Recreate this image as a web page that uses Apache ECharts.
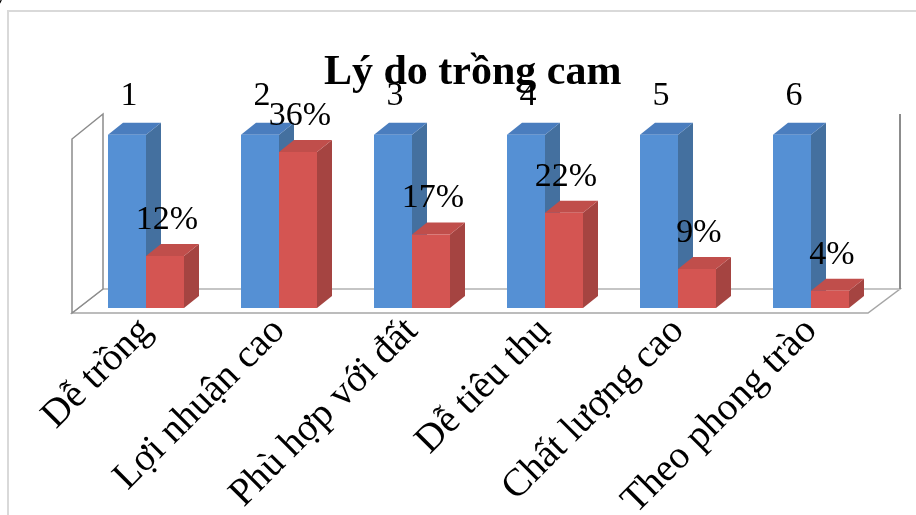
<!DOCTYPE html>
<html><head><meta charset="utf-8">
<script src="https://cdn.jsdelivr.net/npm/echarts@6/dist/echarts.min.js"></script>
<style>html,body{margin:0;padding:0;background:#fff}#c{width:916px;height:515px}</style>
</head><body><div id="c"></div>
<script>
const categories = ['Dễ trồng','Lợi nhuận cao','Phù hợp với đất','Dễ tiêu thụ','Chất lượng cao','Theo phong trào'];
const blueValues = [40, 40, 40, 40, 40, 40];
const blueLabels = ['1','2','3','4','5','6'];
const redValues = [12, 36, 17, 22, 9, 4];
const redLabels = ['12%','36%','17%','22%','9%','4%'];

const BW = 38, DX = 15, DY = 12;
const SERIF = '"Liberation Serif","Times New Roman",serif';
const blue = {front:'#5590D4', top:'#4A7DBE', side:'#44709F'};
const red = {front:'#D45552', top:'#C04E4B', side:'#A54441'};

function makeRender(col, offset, labels, lift){
  return function(params, api){
    const i = api.value(0), v = api.value(1);
    const b = api.coord([i, 0]), t = api.coord([i, v]);
    const x0 = b[0] + offset, ty = t[1], by = b[1];
    return {type:'group', children:[
      {type:'polygon', shape:{points:[[x0+BW,ty],[x0+BW+DX,ty-DY],[x0+BW+DX,by-DY],[x0+BW,by]]}, style:{fill:col.side}},
      {type:'polygon', shape:{points:[[x0,ty],[x0+DX,ty-DY],[x0+BW+DX,ty-DY],[x0+BW,ty]]}, style:{fill:col.top}},
      {type:'rect', shape:{x:x0, y:ty, width:BW, height:by-ty}, style:{fill:col.front}},
      {type:'text', z2:10, style:{text:labels[params.dataIndex], x:x0+BW/2+2, y:ty-DY-lift, align:'center', verticalAlign:'bottom', fill:'#000', font:'34px '+SERIF}}
    ]};
  };
}

const chart = echarts.init(document.getElementById('c'), null, {renderer:'canvas'});
chart.setOption({
  animation:false,
  backgroundColor:'#fff',
  title:{text:'Lý do trồng cam', left:319, top:47, textStyle:{fontFamily:SERIF, fontWeight:'bold', fontSize:42, color:'#000'}},
  grid:{left:79.5, right:38.5, top:91.5, bottom:207, containLabel:false, outerBoundsMode:'none'},
  xAxis:{type:'category', data:categories, axisLine:{show:false}, axisTick:{show:false},
    axisLabel:{rotate:45, margin:17, interval:0, fontFamily:SERIF, fontSize:39, color:'#000'}},
  yAxis:{type:'value', min:0, max:50, show:false},
  graphic:[
    {type:'text', z:-1, style:{text:'ý 4%.', x:-6, y:6, verticalAlign:'bottom', font:'30px '+SERIF, fill:'#000'}},
    {type:'polyline', z:-1, shape:{points:[[8,515],[8,11],[916,11]]}, style:{stroke:'#d9d9d9', lineWidth:2, fill:null}},
    {type:'polygon', z:-1, shape:{points:[[72,313],[868,313],[900,289],[103,289]]}, style:{fill:'#fff', stroke:'#a6a6a6', lineWidth:1.5}},
    {type:'line', z:-1, shape:{x1:103,y1:289,x2:900,y2:289}, style:{stroke:'#c8c8c8', lineWidth:1.5}},
    {type:'polygon', z:-1, shape:{points:[[72,313],[72,139],[103,114],[103,289]]}, style:{fill:'#fff', stroke:'#8c8c8c', lineWidth:1.5}},
    {type:'line', z:-1, shape:{x1:900,y1:289,x2:900,y2:114}, style:{stroke:'#8c8c8c', lineWidth:2}}
  ],
  series:[
    {type:'custom', name:'blue', renderItem:makeRender(blue, -BW, blueLabels, 10), data:blueValues.map((v,i)=>[i,v]), z:2},
    {type:'custom', name:'red', renderItem:makeRender(red, 0, redLabels, 7), data:redValues.map((v,i)=>[i,v]), z:3}
  ]
});
</script></body></html>
